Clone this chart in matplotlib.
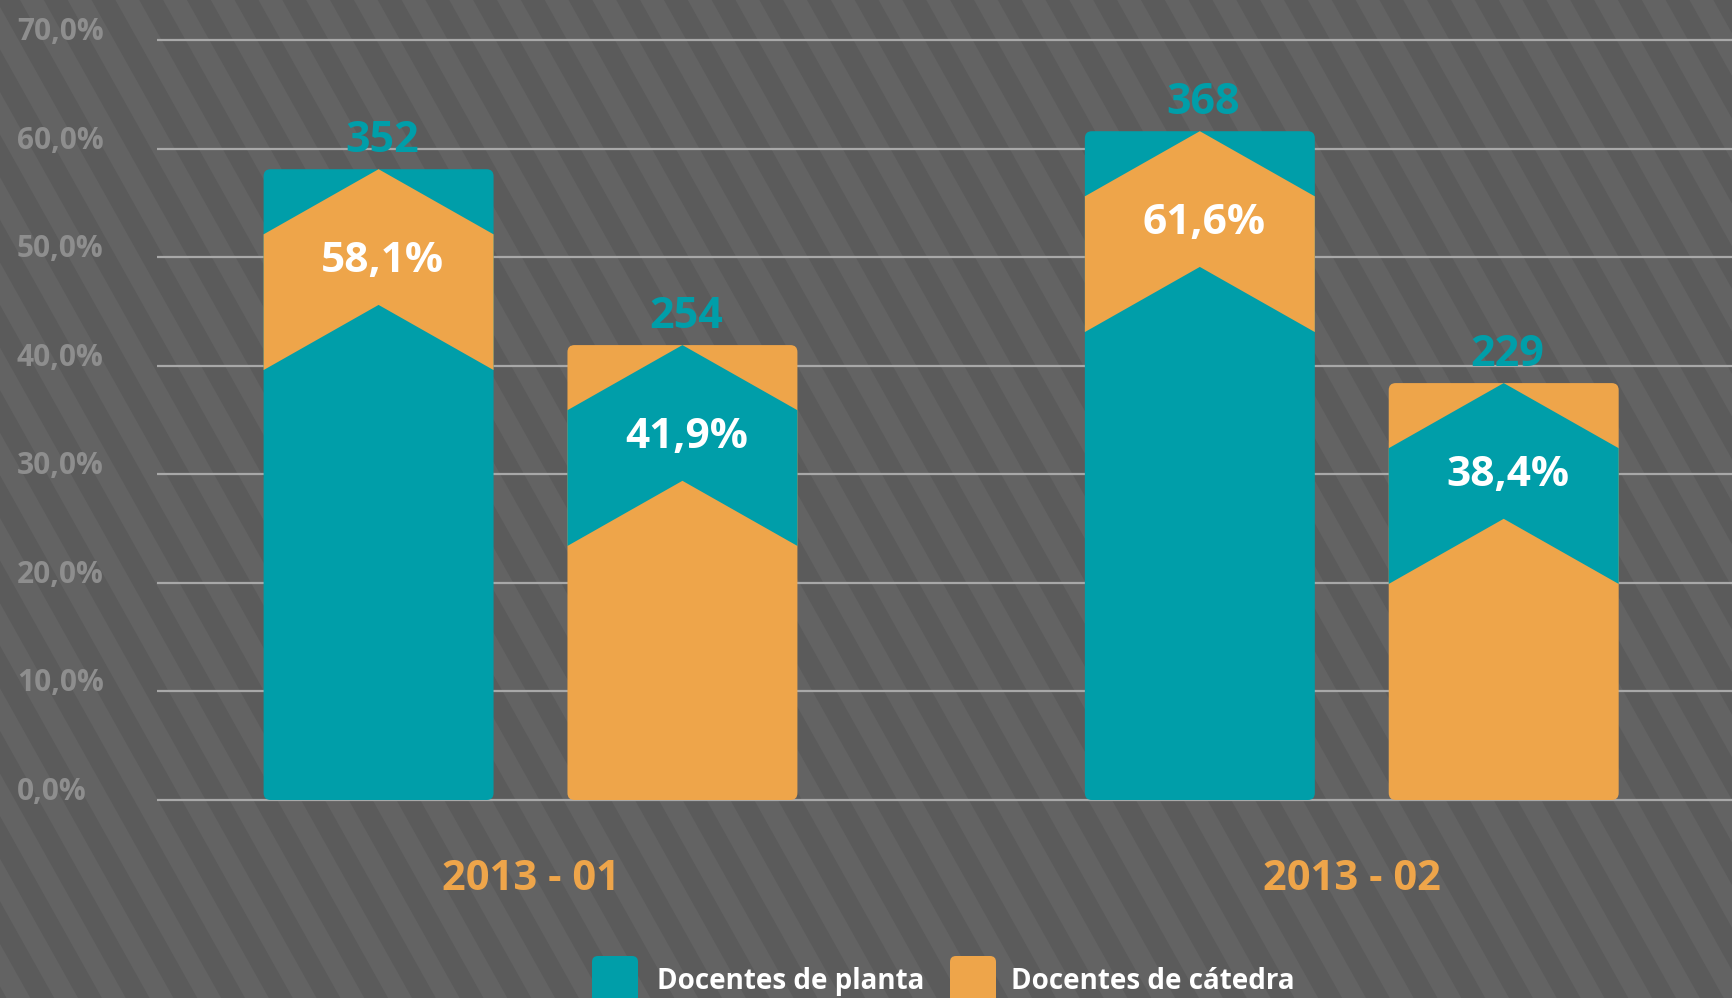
import numpy as np
import matplotlib
matplotlib.use("Agg")
import matplotlib.pyplot as plt
from matplotlib.patches import FancyBboxPatch, Polygon, BoxStyle
from matplotlib.collections import PolyCollection
import matplotlib.transforms as mtransforms

# Data
periods = ["2013 - 01", "2013 - 02"]
planta_pct = [58.1, 61.6]
catedra_pct = [41.9, 38.4]
planta_n = [352, 368]
catedra_n = [254, 229]
series_names = ["Docentes de planta", "Docentes de cátedra"]
yticks = [0, 10, 20, 30, 40, 50, 60, 70]

teal = "#009EA9"
orange = "#EEA54A"
grid_col = "#A8A8A8"
tick_col = "#8E8E8E"
font = "Open Sans"

W, H = 1733, 998
fig = plt.figure(figsize=(W / 100, H / 100), dpi=100)
fig.patch.set_facecolor("#5B5B5B")

# striped background
bg = fig.add_axes([0, 0, 1, 1], zorder=0)
bg.set_xlim(0, W)
bg.set_ylim(H, 0)
bg.axis("off")
period_px, slope = 47.7, 0.56
stripes = []
for k in range(-25, 40):
    x0 = 20 + k * period_px
    stripes.append([(x0, 0), (x0 + period_px / 2, 0),
                    (x0 + period_px / 2 + slope * H, H), (x0 + slope * H, H)])
bg.add_collection(PolyCollection(stripes, facecolors="#636363", edgecolors="none"))

# main axes (pixel layout: 0% at y=800, 70% at y=40, grid from x=157)
pad = 0.2
px_per_unit = 760 / 70
ax = fig.add_axes([157 / W, (H - 800 - pad * px_per_unit) / H,
                   (W - 157) / W, (760 + 2 * pad * px_per_unit) / H], zorder=1)
ax.set_facecolor("none")
ax.set_xlim(-0.4548, 1.4642)
ax.set_ylim(-pad, 70 + pad)
for s in ax.spines.values():
    s.set_visible(False)
ax.set_xticks([])
ax.set_yticks(yticks)
ax.tick_params(left=False, labelleft=False)
ax.yaxis.grid(True, color=grid_col, linewidth=1.6)
ax.set_axisbelow(True)

# y tick labels, baseline sitting on the grid line
tr = mtransforms.blended_transform_factory(fig.transFigure, ax.transData)
for t in yticks:
    ax.text(17 / W, t, f"{t:.1f}%".replace(".", ","), transform=tr, ha="left",
            va="baseline", fontsize=21.5, fontweight="bold", color=tick_col,
            family=font, clip_on=False)

offset, width = 0.185, 0.28
x_per_px = 1 / 821.25
y_per_px = 70 / 760
aspect = y_per_px / x_per_px
r = 7 * x_per_px
drop, band = 6.0, 12.5

def chevron_bar(xc, h, col, band_col, zo=2):
    ax.add_patch(FancyBboxPatch((xc - width / 2, 0), width, h,
                                boxstyle=BoxStyle.Round(pad=0, rounding_size=r),
                                mutation_aspect=aspect, facecolor=col,
                                edgecolor="none", zorder=zo))
    xl, xr = xc - width / 2, xc + width / 2
    pts = [(xc, h), (xr, h - drop), (xr, h - drop - band), (xc, h - band),
           (xl, h - drop - band), (xl, h - drop)]
    ax.add_patch(Polygon(pts, closed=True, facecolor=band_col, edgecolor="none",
                         zorder=zo + 0.1))

x = np.arange(len(periods))
for i in range(len(periods)):
    for xc, h, n, col, band_col in [(x[i] - offset, planta_pct[i], planta_n[i], teal, orange),
                                     (x[i] + offset, catedra_pct[i], catedra_n[i], orange, teal)]:
        chevron_bar(xc, h, col, band_col)
        ax.text(xc + 0.005, h - 9.5, f"{h:.1f}%".replace(".", ","), ha="center",
                va="baseline", fontsize=30.5, fontweight="bold", color="white",
                family=font, zorder=5)
        ax.text(xc + 0.004, h + 1.6, str(n), ha="center", va="baseline",
                fontsize=31, fontweight="bold", color=teal, family=font, zorder=5)
    ax.text(x[i], -8.3, periods[i], ha="center", va="baseline", fontsize=30,
            fontweight="bold", color=orange, family=font, clip_on=False)

# legend, squares run off the bottom edge
for (x0, tx), col, name in zip([(592, 657), (950, 1011)], [teal, orange], series_names):
    fig.patches.append(FancyBboxPatch((x0 / W, (H - 1015) / H), 46 / W, 59 / H,
                                      boxstyle=BoxStyle.Round(pad=0, rounding_size=6 / W),
                                      mutation_aspect=W / H, transform=fig.transFigure,
                                      facecolor=col, edgecolor="none", zorder=3))
    fig.text(tx / W, (H - 989) / H, name, ha="left", va="baseline", fontsize=20,
             fontweight="bold", color="white", family=font, zorder=4)

fig.savefig("out.png", dpi=100, facecolor=fig.get_facecolor())
